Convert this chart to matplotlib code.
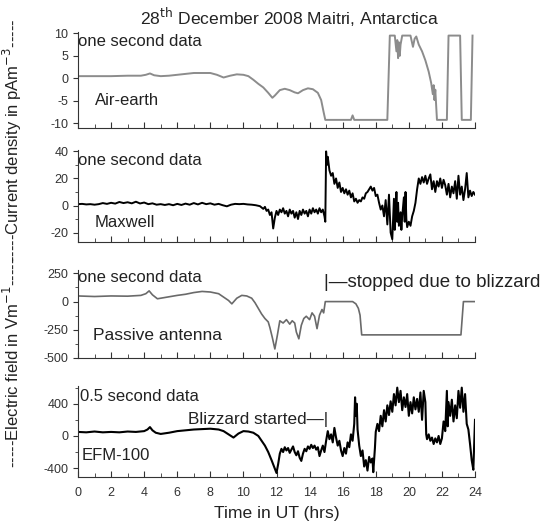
import matplotlib
matplotlib.use("Agg")
import matplotlib.pyplot as plt
from matplotlib.ticker import MultipleLocator

plt.rcParams['font.family'] = ['Liberation Sans', 'DejaVu Sans']
plt.rcParams['axes.unicode_minus'] = False

# Air-earth current (pA/m^3), one second data
ae_t = [0, 1, 2, 3, 3.8, 4.1, 4.35, 4.6, 5, 5.5, 6, 6.5, 7, 7.5, 8, 8.4, 8.8, 9.2, 9.6, 10,
        10.3, 10.6, 10.9, 11.2, 11.5, 11.75, 11.9, 12.2, 12.5, 12.8, 13.1, 13.3, 13.6, 13.9,
        14.2, 14.5, 14.7, 14.85, 14.95, 16.5, 16.6, 16.7, 18.7, 18.85, 19.15, 19.25, 19.3,
        19.35, 19.4, 19.45, 19.5, 19.6, 20.1, 20.25, 20.35, 20.45, 20.6, 20.8, 21.0, 21.2,
        21.35, 21.45, 21.5, 21.55, 21.6, 21.7, 22.3, 22.4, 23.1, 23.2, 23.75, 23.85]
ae_v = [0.5, 0.5, 0.5, 0.6, 0.6, 0.8, 1.1, 0.7, 0.5, 0.6, 0.8, 1.0, 1.2, 1.2, 1.2, 0.8, 0.2,
        0.6, 0.9, 0.8, 0.5, -0.3, -1.2, -2.0, -3.2, -4.3, -3.8, -2.6, -2.3, -2.6, -3.1, -3.3,
        -2.6, -2.2, -2.4, -3.2, -4.8, -7.5, -9.2, -9.2, -8.2, -9.2, -9.2, 9.5, 9.5, 6, 8.5,
        4.5, 8, 5, 7.5, 9.5, 9.5, 7.0, 8.8, 9.3, 7.5, 6, 4, 1.5, -1, -3.5, -1.5, -4.8, -2.5,
        -9.2, -9.2, 9.5, 9.5, -9.2, -9.2, 9.5]

# Maxwell current (pA/m^3), one second data
mx_t = [0, 0.25, 0.5, 0.75, 1, 1.25, 1.5, 1.75, 2, 2.25, 2.5, 2.75, 3, 3.25, 3.5, 3.75, 4,
        4.25, 4.5, 4.75, 5, 5.25, 5.5, 5.75, 6, 6.25, 6.5, 6.75, 7, 7.25, 7.5, 7.75, 8, 8.25,
        8.5, 8.75, 9, 9.25, 9.5, 9.75, 10, 10.25, 10.5, 10.75,
        11.0, 11.1, 11.2, 11.3, 11.4, 11.5, 11.6, 11.7, 11.8, 11.9, 12.0, 12.1, 12.2, 12.3,
        12.4, 12.5, 12.6, 12.7, 12.8, 12.9, 13.0, 13.1, 13.2, 13.3, 13.4, 13.5, 13.6, 13.7,
        13.8, 13.9, 14.0, 14.1, 14.2, 14.3, 14.4, 14.5, 14.6, 14.7, 14.8, 14.9, 14.95,
        15.0, 15.05, 15.1, 15.2, 15.3, 15.4, 15.5, 15.6, 15.7, 15.8, 15.9, 16.0, 16.1, 16.2,
        16.3, 16.4, 16.5, 16.6, 16.7, 16.8, 16.9, 17.0, 17.1, 17.2, 17.3, 17.4, 17.5, 17.6,
        17.7, 17.8, 17.9, 18.0, 18.1, 18.2, 18.3, 18.4, 18.5, 18.6, 18.7, 18.8, 18.9, 19.0,
        19.05, 19.1, 19.15, 19.2, 19.25, 19.3, 19.35, 19.4, 19.5, 19.55, 19.6, 19.7, 19.75,
        19.8, 19.85, 19.9, 20.0, 20.1, 20.2, 20.3, 20.4, 20.5, 20.6, 20.7, 20.8, 20.9, 21.0,
        21.1, 21.2, 21.3, 21.4, 21.5, 21.6, 21.7, 21.8, 21.9, 22.0, 22.1, 22.2, 22.3, 22.4,
        22.5, 22.6, 22.7, 22.8, 22.9, 23.0, 23.1, 23.2, 23.3, 23.4, 23.5, 23.6, 23.7, 23.8,
        23.9, 24.0]
mx_v = [1, 1.2, 0.8, 1, 0.6, 1, 1.8, 1.2, 2, 1.4, 2.6, 1.8, 2.4, 1.6, 2.8, 1.5, 2.2, 1, 1.6,
        0.6, 1, 0.4, 1, 0.2, 1.2, 0.4, 1.4, 0.6, 1.8, 0.8, 2, 1, 1.6, 0.6, 1.2, 0.2, -0.6, 0.6,
        1.2, 1, 1.2, 0.8, 0.6, 0.2,
        -0.5, -1.5, -2.5, -1, -4, -3, -7, -5, -17, -9, -4, -7, -3, -5, -2, -6, -4, -8, -3, -6,
        -4, -9, -5, -10, -4, -7, -3, -6, -4, -8, -3, -6, -2, -5, -3, -6, -2, -5, -3, -8, -12,
        40, 30, 36, 26, 22, 24, 16, 20, 13, 17, 10, 13, 9, 12, 8, 11, 6, 9, 3, 5, 2, 4, 3, 6,
        5, 9, 10, 12, 14, 11, 13, 7, 8, 2, -3, 0, -8, 4, -14, 8, -20, -25,
        -10, 5, -18, -6, 10, -12, 2, -15, -5, -18, -8, 6, -12, 10, -10, -16, -12, -15, -8, -4,
        2, 12, 20, 16, 21, 17, 22, 16, 20, 23, 12, 18, 10, 18, 14, 20, 13, 19, 15, 8, 16, 6,
        14, 9, 18, 5, 22, 8, 14, 4, 12, 24, 6, 11, 7, 10, 8]

# Passive antenna field (V/m), one second data
pa_t = [0, 1, 2, 3, 3.8, 4.1, 4.3, 4.5, 4.8, 5.2, 5.6, 6, 6.5, 7, 7.5, 8, 8.5, 8.8, 9.1, 9.3,
        9.6, 9.9, 10.2, 10.5, 10.7, 10.9, 11.1, 11.3, 11.5, 11.6, 11.75, 11.9, 12.05, 12.2,
        12.4, 12.6, 12.8, 12.95, 13.1, 13.2, 13.35, 13.5, 13.65, 13.8, 14.0, 14.15, 14.3,
        14.45, 14.6, 14.75, 14.85, 14.95, 16.6, 16.8, 16.95, 17.05, 17.15, 23.15, 23.3, 24]
pa_v = [50, 45, 50, 48, 55, 70, 95, 60, 25, 35, 45, 55, 65, 80, 90, 85, 70, 40, 10, -20, 30,
        55, 50, 30, -10, -60, -110, -150, -180, -230, -320, -420, -300, -170, -190, -160,
        -200, -170, -190, -270, -330, -210, -150, -130, -160, -100, -130, -240, -120, -70,
        -100, 0, 0, -20, -60, -120, -295, -295, 0, 0]

# EFM-100 field (V/m), 0.5 second data
ef_t = [0, 0.5, 1, 1.5, 2, 2.5, 3, 3.5, 4, 4.2, 4.35, 4.5, 4.7, 5, 5.5, 6, 6.5, 7, 7.5, 8,
        8.5, 8.8, 9.1, 9.4, 9.7, 10, 10.3, 10.6, 10.9, 11.1, 11.3, 11.5, 11.7, 11.85, 12.0,
        12.1, 12.2, 12.3, 12.4, 12.5, 12.6, 12.7, 12.8, 12.9, 13.0, 13.1, 13.2, 13.3, 13.4,
        13.5, 13.6, 13.7, 13.8, 13.9, 14.0, 14.1, 14.2, 14.3, 14.4, 14.5, 14.6, 14.7, 14.8,
        14.9, 15.0, 15.1, 15.2, 15.3, 15.4, 15.5, 15.6, 15.7, 15.8, 15.9, 16.0, 16.1, 16.2,
        16.3, 16.4, 16.5, 16.6, 16.7, 16.75, 16.8, 16.85, 16.9, 17.0, 17.1, 17.2, 17.3, 17.4,
        17.5, 17.6, 17.7, 17.8, 17.85, 17.95, 18.0, 18.1, 18.2, 18.3, 18.4, 18.5, 18.6, 18.7,
        18.8, 18.9, 19.0, 19.1, 19.2, 19.3, 19.4, 19.5, 19.6, 19.7, 19.8, 19.9, 20.0, 20.1,
        20.2, 20.3, 20.4, 20.5, 20.6, 20.7, 20.8, 20.9, 21.0, 21.05, 21.1, 21.2, 21.3, 21.4,
        21.5, 21.6, 21.7, 21.8, 21.9, 22.0, 22.1, 22.2, 22.3, 22.35, 22.4, 22.5, 22.6, 22.7,
        22.8, 22.9, 23.0, 23.1, 23.2, 23.3, 23.4, 23.5, 23.6, 23.7, 23.8, 23.9, 23.95, 24.0]
ef_v = [50, 45, 55, 45, 50, 45, 55, 50, 60, 80, 110, 70, 40, 25, 40, 60, 70, 80, 85, 90, 80,
        60, 20, -20, 30, 60, 55, 40, 0, -60, -120, -200, -300, -380, -460, -350, -220, -160,
        -200, -140, -180, -150, -210, -170, -130, -200, -240, -190, -270, -310, -220, -160,
        -190, -130, -160, -110, -150, -120, -170, -140, -250, -180, -120, -200, -60, 60, -40,
        20, -80, 100, -20, -120, -60, -180, -250, -150, -220, -80, -140, 20, -60, 150, 480,
        250, 400, 80, -120, -250, -180, -380, -300, -430, -260, -330, -280, -450, -150, 50,
        150, 60, 250, 120, 320, 180, 380, 260, 430, 300, 520, 380, 600, 420, 560, 320, 480,
        360, 520, 250, 420, 280, 480, 330, 460, 300, 540, 200, 560, 420, 20, -40, 20, -60,
        -20, -100, -30, -80, 0, -100, -30, 180, 60, 560, 120, 420, 250, 450, 180, 380, 220,
        560, 350, 600, 300, 520, 150, 80, -100, -300, -420, -100, 200]

fig = plt.figure(figsize=(5.52, 5.25), dpi=100)

left = 78 / 552
width = 397 / 552
ax1 = fig.add_axes([left, 0.7562, width, 0.1829])
ax2 = fig.add_axes([left, 0.5390, width, 0.1752])
ax3 = fig.add_axes([left, 0.3181, width, 0.1676])
ax4 = fig.add_axes([left, 0.0914, width, 0.1733])

ax1.plot(ae_t, ae_v, color='#8c8c8c', lw=1.4)
ax2.plot(mx_t, mx_v, color='black', lw=1.4)
ax3.plot(pa_t, pa_v, color='#6a6a6a', lw=1.2)
ax4.plot(ef_t, ef_v, color='black', lw=1.5)

ax1.set_ylim(-11, 10.3)
ax1.set_yticks([-10, -5, 0, 5, 10])
ax2.set_ylim(-27, 41)
ax2.set_yticks([-20, 0, 20, 40])
ax2.yaxis.set_minor_locator(MultipleLocator(10))
ax3.set_ylim(-500, 280)
ax3.set_yticks([-500, -250, 0, 250])
ax3.yaxis.set_minor_locator(MultipleLocator(125))
ax4.set_ylim(-510, 620)
ax4.set_yticks([-400, 0, 400])
ax4.yaxis.set_minor_locator(MultipleLocator(200))

for ax in [ax1, ax2, ax3, ax4]:
    ax.set_xlim(0, 24)
    ax.xaxis.set_major_locator(MultipleLocator(2))
    ax.xaxis.set_minor_locator(MultipleLocator(1))
    ax.spines['top'].set_visible(False)
    ax.spines['right'].set_visible(False)
    ax.spines['left'].set_color('#333333')
    ax.spines['bottom'].set_color('#333333')
    ax.tick_params(axis='x', which='both', direction='in', color='#333333')
    ax.tick_params(axis='x', which='major', length=4, pad=7)
    ax.tick_params(axis='x', which='minor', length=3)
    ax.tick_params(axis='y', which='both', direction='out', color='#333333',
                   labelsize=9, labelcolor='#333333')
    ax.tick_params(axis='y', which='minor', length=2)
    ax.tick_params(axis='x', labelsize=9, labelcolor='#333333')
    if ax is not ax4:
        ax.tick_params(axis='x', labelbottom=False)

tc = '#222222'
ax1.text(0.0, 0.90, 'one second data', transform=ax1.transAxes, fontsize=12, color=tc, va='center')
ax1.text(0.043, 0.29, 'Air-earth', transform=ax1.transAxes, fontsize=12, color=tc, va='center')
ax2.text(0.0, 0.89, 'one second data', transform=ax2.transAxes, fontsize=12, color=tc, va='center')
ax2.text(0.043, 0.21, 'Maxwell', transform=ax2.transAxes, fontsize=12, color=tc, va='center')
ax3.text(0.0, 0.92, 'one second data', transform=ax3.transAxes, fontsize=12, color=tc, va='center')
ax3.text(0.038, 0.26, 'Passive antenna', transform=ax3.transAxes, fontsize=12.5, color=tc, va='center')
ax4.text(0.005, 0.89, '0.5 second data', transform=ax4.transAxes, fontsize=12, color=tc, va='center')
ax4.text(0.01, 0.24, 'EFM-100', transform=ax4.transAxes, fontsize=12, color=tc, va='center')

ax3.text(14.9, 170, '|\u2014stopped due to blizzard', fontsize=13.5, color=tc, va='center',
         ha='left', clip_on=False)
ax4.text(15.1, 200, 'Blizzard started\u2014|', fontsize=12.3, color=tc, va='center', ha='right')

fig.text(0.524, 0.966, '28$^{\\rm th}$ December 2008 Maitri, Antarctica', fontsize=12.6,
         color=tc, ha='center', va='center')
fig.text(0.501, 0.021, 'Time in UT (hrs)', fontsize=12.6, color=tc, ha='center', va='center')
fig.text(0.022, 0.733, '-----Current density in pAm$^{-3}$-----', fontsize=12, color=tc,
         rotation=90, ha='center', va='center')
fig.text(0.022, 0.31, '-----Electric field in Vm$^{-1}$-----', fontsize=12, color=tc,
         rotation=90, ha='center', va='center')

fig.savefig('out.png', dpi=100)
